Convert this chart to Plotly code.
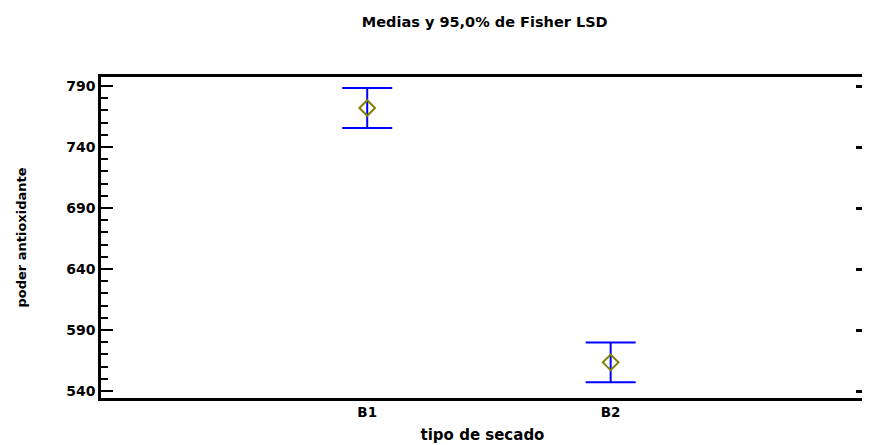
import plotly.graph_objects as go

categories = ["B1", "B2"]
means = [772.0, 563.5]
half_intervals = [16.4, 16.2]
y_tick_vals = [540, 590, 640, 690, 740, 790]

FONT = "DejaVu Sans"
BOLD = dict(family=FONT, weight="bold", color="black")

fig = go.Figure()
fig.add_trace(go.Scatter(
    x=categories, y=means, mode="markers",
    marker=dict(symbol="diamond-open", size=12, color="#808000", line=dict(width=2, color="#808000")),
    error_y=dict(type="data", array=half_intervals, visible=True, color="#0000ff", thickness=2, width=25),
    showlegend=False, cliponaxis=False,
))
# invisible trace carrying the right-hand tick axis
fig.add_trace(go.Scatter(x=categories, y=means, yaxis="y2", mode="markers",
                         marker=dict(opacity=0), showlegend=False, hoverinfo="skip"))

yr = [534.3, 797.4]
fig.update_layout(
    width=870, height=445,
    margin=dict(l=85, r=14, t=69, b=55),
    paper_bgcolor="white", plot_bgcolor="white",
    font=dict(size=13, **BOLD),
    title=dict(text="Medias y 95,0% de Fisher LSD", x=0.548, xanchor="center", y=0.9685, yanchor="middle",
               font=dict(size=14.5, **BOLD)),
    xaxis=dict(type="category", range=[-1.0935, 2.0407], showgrid=False, zeroline=False,
               showline=True, linecolor="black", linewidth=2.5, mirror=True, ticks="",
               tickfont=dict(size=13.5, **BOLD),
               title=dict(text="tipo de secado", font=dict(size=15, **BOLD), standoff=11)),
    yaxis=dict(range=yr, tickvals=y_tick_vals, showgrid=False, zeroline=False,
               showline=True, linecolor="black", linewidth=2.5, mirror=False,
               ticks="inside", ticklen=12, tickwidth=2, tickcolor="black",
               minor=dict(dtick=10, ticks="inside", ticklen=7, tickwidth=2, tickcolor="black"),
               tickfont=dict(size=14, **BOLD),
               title=dict(text="poder antioxidante", font=dict(size=13, **BOLD), standoff=37)),
    yaxis2=dict(range=yr, tickvals=y_tick_vals, overlaying="y", side="right", showgrid=False,
                zeroline=False, showline=False, ticks="inside", ticklen=8, tickwidth=2.5,
                tickcolor="black", showticklabels=False),
)
fig.write_html("out.html")
